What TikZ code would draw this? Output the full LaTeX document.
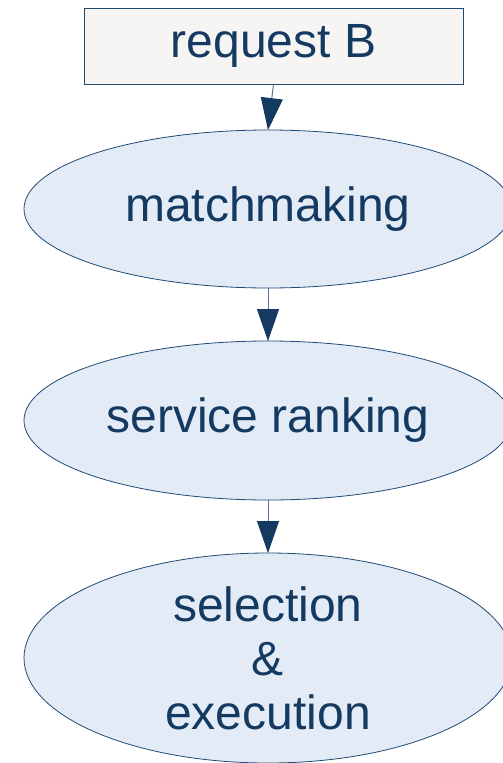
\documentclass[tikz,border=0pt]{standalone}
\usepackage{fontspec}
\setmainfont{Liberation Sans}
\usetikzlibrary{shapes.geometric,arrows.meta}
\definecolor{txt}{HTML}{143A62}
\definecolor{edge}{HTML}{1F4A75}
\definecolor{efill}{HTML}{E3ECF6}
\definecolor{rfill}{HTML}{F6F5F3}
\definecolor{lineC}{HTML}{5A7594}
\tikzset{
  x=1pt,y=1pt,
  oval/.style={ellipse, draw=edge, line width=0.8pt, fill=efill, text=txt,
    minimum width=488pt, inner sep=0pt, outer sep=0pt, align=center,
    font=\fontsize{48}{54}\selectfont},
  reqbox/.style={rectangle, draw=edge, line width=0.8pt, fill=rfill, text=txt,
    minimum width=379pt, minimum height=76pt, inner sep=0pt, outer sep=0pt,
    font=\fontsize{48}{54}\selectfont},
  flow/.style={draw=lineC, line width=1pt, -{Triangle[length=32pt,width=22pt,fill=txt,color=txt]}}
}
\begin{document}
\begin{tikzpicture}
\useasboundingbox (0,0) rectangle (503,-763);
\node[reqbox] (r) at (273.5,-46) {request B};
\node[oval, minimum height=158pt] (m) at (268,-209) {matchmaking};
\node[oval, minimum height=159pt] (s) at (268,-420.5) {service ranking};
\node[oval, minimum height=210pt] (x) at (268,-658) {selection\\\&\\execution};
\draw[flow] (r.south) -- (m.north);
\draw[flow] (m.south) -- (s.north);
\draw[flow] (s.south) -- (x.north);
\end{tikzpicture}
\end{document}
